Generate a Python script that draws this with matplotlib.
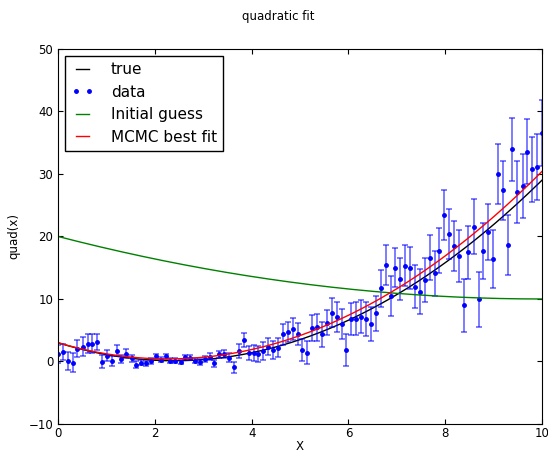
import numpy as np
import matplotlib
matplotlib.use("Agg")
import matplotlib.pyplot as plt

# data points
x_data = [
    0.00, 0.10, 0.20, 0.30, 0.40, 0.51, 0.61, 0.71, 0.81, 0.91,
    1.01, 1.11, 1.21, 1.31, 1.41, 1.52, 1.62, 1.72, 1.82, 1.92,
    2.02, 2.12, 2.22, 2.32, 2.42, 2.53, 2.63, 2.73, 2.83, 2.93,
    3.03, 3.13, 3.23, 3.33, 3.43, 3.54, 3.64, 3.74, 3.84, 3.94,
    4.04, 4.14, 4.24, 4.34, 4.44, 4.55, 4.65, 4.75, 4.85, 4.95,
    5.05, 5.15, 5.25, 5.35, 5.45, 5.56, 5.66, 5.76, 5.86, 5.96,
    6.06, 6.16, 6.26, 6.36, 6.46, 6.57, 6.67, 6.77, 6.87, 6.97,
    7.07, 7.17, 7.27, 7.37, 7.47, 7.58, 7.68, 7.78, 7.88, 7.98,
    8.08, 8.18, 8.28, 8.38, 8.48, 8.59, 8.69, 8.79, 8.89, 8.99,
    9.09, 9.19, 9.29, 9.39, 9.49, 9.60, 9.70, 9.80, 9.90, 10.00,
]
y_data = [
    1.2, 1.47, 0.03, -0.19, 2.05, 2.37, 2.85, 2.85, 3.12, -0.03,
    0.93, 0.13, 1.73, 0.4, 1.25, 0.5, -0.5, -0.19, -0.3, 0.03,
    0.8, 0.24, 0.8, 0.13, 0.13, -0.08, 0.67, 0.56, 0.13, -0.13,
    0.35, 0.77, -0.29, 1.15, 1.2, 0.61, -0.93, 1.68, 3.49, 1.31,
    1.41, 1.2, 1.68, 2.37, 1.84, 2.2, 4.35, 4.72, 5.15, 4.35,
    1.84, 1.41, 5.36, 5.47, 4.35, 6.21, 7.81, 7.17, 6.0, 1.84,
    6.75, 6.85, 7.17, 6.75, 5.95, 7.71, 11.71, 15.49, 10.48, 15.01,
    13.2, 15.33, 15.01, 11.97, 11.12, 12.99, 16.61, 14.11, 17.73, 23.44,
    20.4, 18.48, 16.88, 8.99, 17.47, 21.57, 9.95, 17.73, 20.72, 16.4,
    30.0, 27.39, 18.64, 33.95, 27.12, 28.13, 33.52, 30.75, 31.07, 36.5,
]
y_err = [
    1.5, 1.25, 1.47, 1.52, 1.33, 1.55, 1.47, 1.47, 1.25, 1.07,
    0.93, 0.8, 0.93, 0.6, 0.7, 0.6, 0.5, 0.4, 0.4, 0.5,
    0.45, 0.4, 0.37, 0.35, 0.35, 0.35, 0.4, 0.4, 0.4, 0.45,
    0.5, 0.53, 0.55, 0.6, 0.67, 0.75, 0.88, 1.07, 1.12, 1.12,
    1.3, 1.35, 1.39, 1.4, 1.45, 1.5, 1.65, 1.55, 1.73, 1.75,
    1.8, 1.85, 2.08, 2.13, 2.0, 2.0, 2.32, 2.4, 2.45, 2.5,
    2.53, 2.67, 2.6, 2.7, 2.75, 2.8, 2.93, 3.2, 3.2, 3.07,
    3.3, 3.33, 3.35, 3.47, 3.6, 3.5, 3.6, 3.6, 3.6, 4.0,
    4.0, 4.05, 4.1, 4.2, 4.27, 4.37, 4.4, 4.5, 4.53, 4.7,
    4.75, 4.72, 4.8, 5.0, 5.0, 5.1, 5.2, 5.2, 5.28, 5.3,
]

# quadratic coefficients (a, b, c) for the three curves
true_coef = [0.5, -2.4, 3.0]
guess_coef = [0.1, -2.0, 20.0]
mcmc_coef = [0.502, -2.28, 3.0]

fig = plt.figure(figsize=(5.48, 4.53), dpi=100)
ax = fig.add_axes([0.106, 0.064, 0.883, 0.828])

xs = np.linspace(0, 10, 300)
ax.plot(xs, np.polyval(true_coef, xs), "k-", lw=1.0, label="true")
ax.errorbar(x_data, y_data, yerr=y_err, fmt="none", ecolor="b", alpha=0.6,
            elinewidth=1.2, capsize=2.5, capthick=1.2)
ax.plot(x_data, y_data, "b.", markersize=5, label="data")
ax.plot(xs, np.polyval(guess_coef, xs), "g-", lw=1.0, label="Initial guess")
ax.plot(xs, np.polyval(mcmc_coef, xs), "r-", lw=1.0, label="MCMC best fit")

ax.set_xlim(0, 10)
ax.set_ylim(-10, 50)
ax.set_xticks(range(0, 11, 2))
ax.set_yticks(range(-10, 51, 10))
ax.tick_params(direction="in", top=True, right=True, labelsize=8.5)
ax.tick_params(axis="x", pad=2)
ax.tick_params(axis="y", pad=3.5)
ax.set_xlabel("X", fontsize=8.5, labelpad=0)
ax.set_ylabel("quad(x)", fontsize=8.5, labelpad=6)

leg = ax.legend(loc="upper left", numpoints=2, fontsize=11, fancybox=False,
                framealpha=1, edgecolor="black", handlelength=1.5,
                handletextpad=1.1, borderaxespad=0.45)
leg.get_frame().set_linewidth(1.0)

fig.text(0.507, 0.963, "quadratic fit", ha="center", va="center", fontsize=8.5)

fig.savefig("out.png", dpi=100)
